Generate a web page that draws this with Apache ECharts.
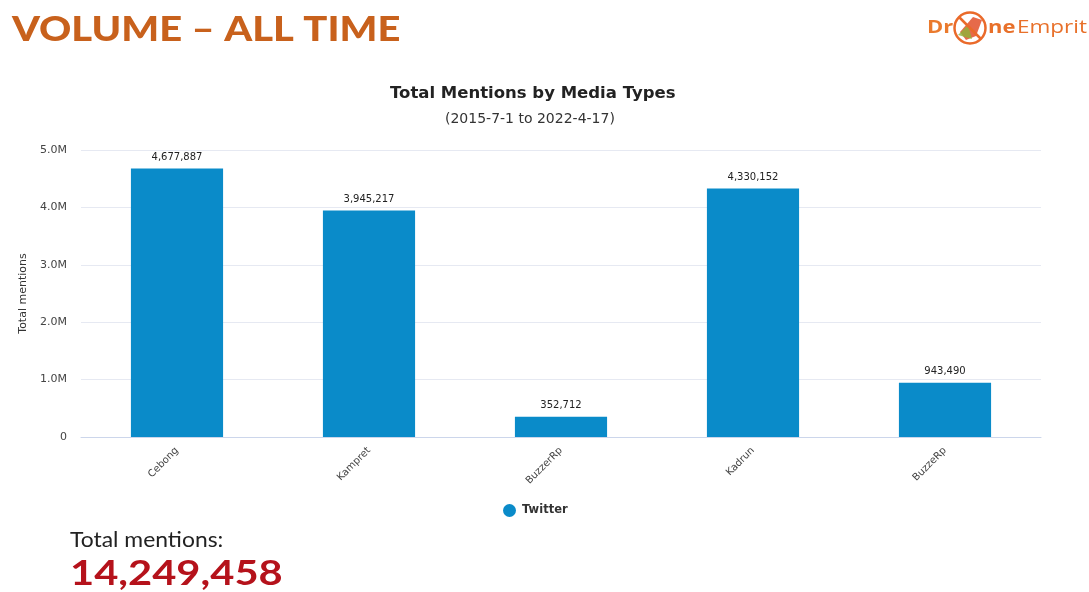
<!DOCTYPE html>
<html>
<head>
<meta charset="utf-8">
<script src="https://cdn.jsdelivr.net/npm/echarts@6/dist/echarts.min.js"></script>
<style>
html,body{margin:0;padding:0;background:#ffffff;}
#main{width:1089px;height:592px;}
</style>
</head>
<body>
<div id="main"></div>
<script>
const categories = ['Cebong', 'Kampret', 'BuzzerRp', 'Kadrun', 'BuzzeRp'];
const twitterValues = [4677887, 3945217, 352712, 4330152, 943490];
const yTickLabels = ['0', '1.0M', '2.0M', '3.0M', '4.0M', '5.0M'];
const seriesName = 'Twitter';
const totalMentions = '14,249,458';

const chart = echarts.init(document.getElementById('main'));
const option = {
  backgroundColor: '#ffffff',
  animation: false,
  title: [
    {
      text: 'Total Mentions by Media Types',
      left: 385, top: 80,
      textStyle: { fontFamily: 'DejaVu Sans', fontSize: 16.5, fontWeight: 'bold', color: '#222' }
    },
    {
      text: '(2015-7-1 to 2022-4-17)',
      left: 440, top: 107,
      textStyle: { fontFamily: 'DejaVu Sans', fontSize: 14, fontWeight: 'normal', color: '#333' }
    }
  ],
  legend: {
    data: [seriesName],
    left: 498, top: 499,
    icon: 'circle', itemWidth: 13, itemHeight: 13, itemGap: 6,
    textStyle: { fontFamily: 'DejaVu Sans', fontSize: 11.5, fontWeight: 'bold', color: '#333', padding: [0, 0, 0, 1] }
  },
  grid: { left: 81, right: 48, top: 150, bottom: 155, containLabel: false },
  xAxis: {
    type: 'category',
    data: categories,
    axisLine: { lineStyle: { color: '#ccd6eb' } },
    axisTick: { show: false },
    axisLabel: { rotate: 45, margin: 12, fontFamily: 'DejaVu Sans', fontSize: 10, color: '#444' }
  },
  yAxis: {
    type: 'value',
    min: 0, max: 5000000, interval: 1000000,
    name: 'Total mentions',
    nameLocation: 'middle', nameGap: 52, nameRotate: 90,
    nameTextStyle: { fontFamily: 'DejaVu Sans', fontSize: 11, color: '#333' },
    axisLine: { show: false },
    axisTick: { show: false },
    axisLabel: {
      margin: 14, fontFamily: 'DejaVu Sans', fontSize: 11, color: '#444',
      formatter: function (v) { return yTickLabels[Math.round(v / 1000000)]; }
    },
    splitLine: { lineStyle: { color: '#e6e9f2' } }
  },
  series: [{
    name: seriesName,
    type: 'bar',
    data: twitterValues,
    barWidth: '48%',
    itemStyle: { color: '#0a8bc9' },
    label: {
      show: true, position: 'top', distance: 6,
      fontFamily: 'DejaVu Sans', fontSize: 10, color: '#222',
      formatter: function (p) { return p.value.toLocaleString('en-US'); }
    }
  }],
  graphic: [
    {
      type: 'text', x: 12, y: 12, scaleX: 1.14,
      style: { x: 0, y: 0, text: 'VOLUME \u2013 ALL TIME', font: '900 35px Lato', fill: '#c8611c', verticalAlign: 'top' }
    },
    {
      type: 'text', x: 927, y: 19, scaleX: 1.22,
      style: { x: 0, y: 0, text: 'Dr', font: 'bold 18px "Open Sans"', fill: '#ea7a2d', verticalAlign: 'top' }
    },
    {
      type: 'circle', shape: { cx: 970, cy: 28, r: 15.5 },
      style: { fill: 'none', stroke: '#ea6a2a', lineWidth: 2.5 }
    },
    {
      type: 'polygon', shape: { points: [[960, 32], [973, 17], [982, 20], [976, 36], [966, 40]] },
      style: { fill: '#e2502a', opacity: 0.85 }
    },
    {
      type: 'polygon', shape: { points: [[958, 35], [968, 25], [972, 39]] },
      style: { fill: '#8fb33a', opacity: 0.8 }
    },
    {
      type: 'line', shape: { x1: 959, y1: 17, x2: 981, y2: 39 },
      style: { stroke: '#ea6a2a', lineWidth: 2.5 }
    },
    {
      type: 'text', x: 988, y: 19, scaleX: 1.22,
      style: { x: 0, y: 0, text: 'ne', font: 'bold 18px "Open Sans"', fill: '#e8702a', verticalAlign: 'top' }
    },
    {
      type: 'text', x: 1017, y: 19, scaleX: 1.25,
      style: { x: 0, y: 0, text: 'Emprit', font: '18px "Open Sans"', fill: '#e8702a', verticalAlign: 'top' }
    },
    {
      type: 'text', x: 70, y: 529, scaleX: 1.04,
      style: { x: 0, y: 0, text: 'Total mentions:', font: '22px Lato', fill: '#222', verticalAlign: 'top' }
    },
    {
      type: 'text', x: 70, y: 556, scaleX: 1.19,
      style: { x: 0, y: 0, text: totalMentions, font: 'bold 35px Lato', fill: '#b5121b', verticalAlign: 'top' }
    }
  ]
};
chart.setOption(option);
</script>
</body>
</html>
